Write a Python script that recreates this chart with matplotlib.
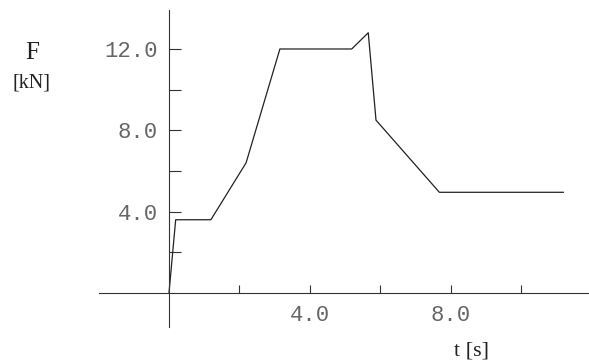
import matplotlib
matplotlib.use("Agg")
import matplotlib.pyplot as plt
from matplotlib.ticker import FuncFormatter

# load curve
t = [0.0, 0.19, 1.19, 2.19, 3.15, 5.19, 5.66, 5.88, 7.68, 11.2]
F = [0.0, 3.6, 3.6, 6.4, 12.0, 12.0, 12.8, 8.5, 4.95, 4.95]

x_labeled = [4, 8]
y_labeled = [4, 8, 12]

fig = plt.figure(figsize=(5.89, 3.6), dpi=100)
ax = fig.add_axes([0, 0, 1, 1])
ax.set_xlim(-4.80, 11.93)
ax.set_ylim(-3.30, 14.41)

ax.plot(t, F, color="#222222", lw=0.9)

for s in ["top", "right"]:
    ax.spines[s].set_visible(False)
ax.spines["left"].set_position(("data", 0))
ax.spines["bottom"].set_position(("data", 0))
ax.spines["left"].set_bounds(-1.7, 13.9)
ax.spines["bottom"].set_bounds(-2.0, 11.93)
for s in ["left", "bottom"]:
    ax.spines[s].set_color("#333333")
    ax.spines[s].set_linewidth(0.8)

ax.set_xticks([2, 4, 6, 8, 10])
ax.set_yticks([2, 4, 6, 8, 10, 12])
ax.xaxis.set_major_formatter(FuncFormatter(lambda v, p: f"{v:.1f}" if round(v) in x_labeled else ""))
ax.yaxis.set_major_formatter(FuncFormatter(lambda v, p: f"{v:.1f}" if round(v) in y_labeled else ""))

ax.tick_params(axis="y", direction="in", length=8.6, width=0.8, pad=8, colors="#333333",
               labelcolor="#666666")
ax.tick_params(axis="x", direction="in", length=6, width=0.8, pad=9, colors="#333333",
               labelcolor="#666666")
for lab in ax.get_xticklabels() + ax.get_yticklabels():
    lab.set_fontfamily("Liberation Mono")
    lab.set_fontsize(16)

fig.text(32 / 589, 1 - 53 / 360, "F", family="Liberation Serif", size=18,
         ha="center", va="center", color="#222222")
fig.text(32 / 589, 1 - 83 / 360, "[kN]", family="Liberation Serif", size=14.5,
         ha="center", va="center", color="#222222")
fig.text(472 / 589, 1 - 351 / 360, "t [s]", family="Liberation Serif", size=16,
         ha="center", va="center", color="#222222")

fig.savefig("out.png", dpi=100)
